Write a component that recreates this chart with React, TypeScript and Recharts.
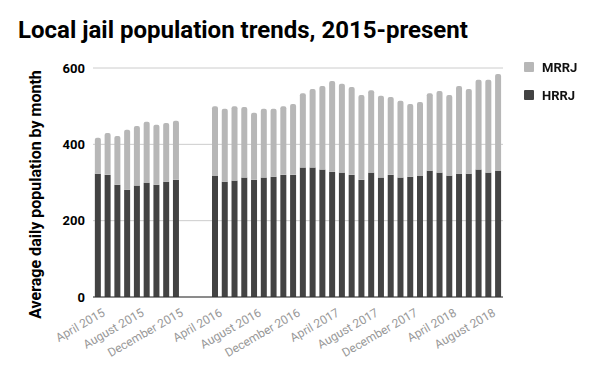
import { Bar, BarChart, CartesianGrid, Legend, XAxis, YAxis } from "recharts";

const months = [
  "April 2015", "May 2015", "June 2015", "July 2015", "August 2015", "September 2015",
  "October 2015", "November 2015", "December 2015", "January 2016", "February 2016", "March 2016",
  "April 2016", "May 2016", "June 2016", "July 2016", "August 2016", "September 2016",
  "October 2016", "November 2016", "December 2016", "January 2017", "February 2017", "March 2017",
  "April 2017", "May 2017", "June 2017", "July 2017", "August 2017", "September 2017",
  "October 2017", "November 2017", "December 2017", "January 2018", "February 2018", "March 2018",
  "April 2018", "May 2018", "June 2018", "July 2018", "August 2018", "September 2018",
];

const hrrj = [
  323, 320, 294, 281, 292, 299, 294, 302, 307, null, null, null,
  318, 302, 305, 313, 307, 313, 315, 320, 320, 339, 339, 334,
  328, 326, 320, 307, 326, 313, 320, 313, 315, 318, 331, 326,
  318, 323, 323, 334, 326, 331,
];

const mrrj = [
  94, 110, 128, 157, 156, 160, 157, 154, 155, null, null, null,
  182, 191, 195, 185, 176, 180, 178, 180, 186, 195, 206, 219,
  238, 233, 230, 222, 216, 214, 204, 201, 191, 193, 203, 214,
  211, 230, 222, 235, 243, 253,
];

const yTicks = [0, 200, 400, 600];

const DARK = "#434343";
const LIGHT = "#b7b7b7";
const FONT = "Roboto, 'Noto Sans', sans-serif";

const data = months.map((month, i) => ({ month, HRRJ: hrrj[i], MRRJ: mrrj[i] }));

function MonthTick(props: any) {
  const { x, y, payload } = props;
  return (
    <text
      x={x + 8}
      y={y + 10}
      textAnchor="end"
      fill="#999999"
      fontSize={12}
      fontFamily={FONT}
      transform={`rotate(-30, ${x + 8}, ${y + 10})`}
    >
      {payload.value}
    </text>
  );
}

function LegendBox() {
  const items = [
    { name: "MRRJ", color: LIGHT },
    { name: "HRRJ", color: DARK },
  ];
  return (
    <div style={{ fontFamily: FONT }}>
      {items.map((it) => (
        <div key={it.name} style={{ display: "flex", alignItems: "center", height: 28 }}>
          <span style={{ width: 10, height: 10, background: it.color, borderRadius: 1, marginRight: 8 }} />
          <span style={{ fontSize: 13, fontWeight: 700, color: "#111" }}>{it.name}</span>
        </div>
      ))}
    </div>
  );
}

export default function App() {
  return (
    <div style={{ position: "fixed", left: 0, top: 0, width: 600, height: 371, background: "#fff", fontFamily: FONT }}>
      <div style={{ position: "absolute", left: 18, top: 16, fontSize: 24, fontWeight: 700, color: "#000", whiteSpace: "nowrap" }}>
        Local jail population trends, 2015-present
      </div>
      <BarChart
        width={600}
        height={371}
        data={data}
        margin={{ top: 68, right: 97, left: 0, bottom: 4 }}
        barCategoryGap="19%"
      >
        <CartesianGrid vertical={false} stroke="#cccccc" />
        <XAxis
          dataKey="month"
          interval={3}
          height={70}
          tick={<MonthTick />}
          tickLine={false}
          axisLine={{ stroke: "#333333" }}
        />
        <YAxis
          width={93}
          domain={[0, 600]}
          ticks={yTicks}
          tickLine={false}
          axisLine={false}
          tick={{ fill: "#000", fontSize: 13, fontWeight: 700, fontFamily: FONT }}
          label={{
            value: "Average daily population by month",
            angle: -90,
            position: "insideLeft",
            dy: 12,
            dx: 30,
            style: { fontSize: 16, fontWeight: 700, fill: "#000", fontFamily: FONT, textAnchor: "middle" },
          }}
        />
        <Legend
          layout="vertical"
          verticalAlign="middle"
          align="center"
          wrapperStyle={{ left: 524, top: 53, width: 80 }}
          content={<LegendBox />}
        />
        <Bar dataKey="HRRJ" stackId="a" fill={DARK} isAnimationActive={false} />
        <Bar dataKey="MRRJ" stackId="a" fill={LIGHT} radius={[2, 2, 0, 0]} isAnimationActive={false} />
      </BarChart>
    </div>
  );
}
